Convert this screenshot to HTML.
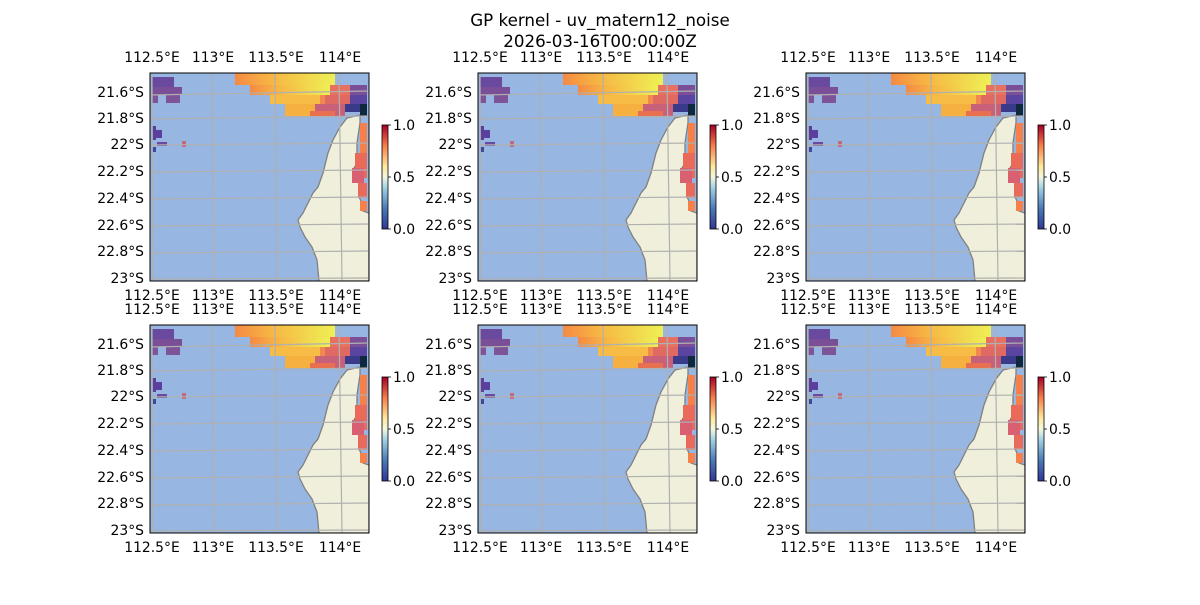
<!DOCTYPE html>
<html><head><meta charset="utf-8"><style>
html,body{margin:0;padding:0;background:#fff;}
text{font-family:"DejaVu Sans",sans-serif;font-size:13.9px;fill:#000;}
.t{font-size:16.7px;}
</style></head><body>
<svg width="1200" height="600" viewBox="0 0 1200 600" xmlns="http://www.w3.org/2000/svg">
<defs>
<linearGradient id="cb" x1="0" y1="1" x2="0" y2="0">
<stop offset="0" stop-color="#313695"/><stop offset="0.2" stop-color="#4a7bb7"/>
<stop offset="0.4" stop-color="#a3d3e6"/><stop offset="0.5" stop-color="#f2f7e0"/>
<stop offset="0.6" stop-color="#fee99d"/><stop offset="0.8" stop-color="#f67f4b"/>
<stop offset="1" stop-color="#a50026"/></linearGradient>
<linearGradient id="yo" x1="0" y1="0" x2="1" y2="0">
<stop offset="0" stop-color="#f58a45"/><stop offset="0.35" stop-color="#f7b543"/><stop offset="1" stop-color="#eef055"/></linearGradient>
<clipPath id="cp"><rect x="0" y="0" width="219" height="208"/></clipPath>
<g id="panel">
<g clip-path="url(#cp)">
<rect x="0" y="0" width="219" height="208" fill="#97b6e1"/>
<polygon points="210,42 197,45 190,54 183,67 178,80 173,100 168,114 163,120 158,130 153,140 148,147 150,154 155,164 162,174 167,187 169,208 219,208 219,140 213,138 212,130 209,124 212,118 211,110 205,105 204,95 207,90 207,70 210,50" fill="#efefdb" stroke="#808080" stroke-width="1.3"/>
<rect x="2" y="4" width="22" height="10" fill="#6a4a9e"/>
<rect x="2" y="14" width="30" height="8" fill="#7a4f98"/>
<rect x="2" y="22" width="6" height="8" fill="#7d5497"/>
<rect x="16" y="22" width="14" height="8" fill="#7d5497"/>
<rect x="2" y="53" width="4" height="14" fill="#5b3f9e"/>
<rect x="6" y="57" width="6" height="8" fill="#5b3f9e"/>
<rect x="7" y="69" width="10" height="4" fill="#6a4a9e"/>
<rect x="2" y="74" width="4" height="5" fill="#3b4a9e"/>
<rect x="32" y="68" width="4" height="6" fill="#c06a80"/>
<rect x="85" y="0" width="100" height="12" fill="url(#yo)"/>
<rect x="100" y="12" width="80" height="10" fill="url(#yo)"/>
<rect x="120" y="22" width="55" height="9" fill="#f6bc45"/>
<rect x="135" y="31" width="30" height="12" fill="#f6b040"/>
<rect x="170" y="22" width="15" height="9" fill="#f08850"/>
<rect x="180" y="12" width="20" height="10" fill="#e87060"/>
<rect x="200" y="12" width="17" height="10" fill="#7a4f98"/>
<rect x="175" y="22" width="25" height="9" fill="#e06a62"/>
<rect x="200" y="22" width="17" height="9" fill="#5a44a0"/>
<rect x="165" y="31" width="30" height="12" fill="#c8607a"/>
<rect x="195" y="31" width="22" height="8" fill="#3a3a8a"/>
<rect x="210" y="31" width="7" height="12" fill="#10283e"/>
<rect x="160" y="38" width="25" height="5" fill="#e87050"/>
<rect x="210" y="50" width="7" height="30" fill="#f5804a"/>
<rect x="205" y="80" width="12" height="25" fill="#ea6a5a"/>
<rect x="202" y="95" width="12" height="15" fill="#d86070"/>
<rect x="208" y="110" width="9" height="15" fill="#e86a5a"/>
<rect x="210" y="128" width="7" height="10" fill="#f58048"/>
</g>
<g stroke="#b0b0b0" stroke-width="1.2" fill="none" clip-path="url(#cp)">
<line x1="2" y1="0" x2="3" y2="208"/><line x1="62" y1="0" x2="64" y2="208"/>
<line x1="125" y1="0" x2="127" y2="208"/><line x1="189" y1="0" x2="192" y2="208"/>
<line x1="0" y1="22" x2="219" y2="18"/><line x1="0" y1="46" x2="219" y2="43"/>
<line x1="0" y1="72" x2="219" y2="70"/><line x1="0" y1="99" x2="219" y2="97"/>
<line x1="0" y1="126" x2="219" y2="124"/><line x1="0" y1="153" x2="219" y2="151"/>
<line x1="0" y1="180" x2="219" y2="178"/><line x1="0" y1="206" x2="219" y2="205"/>
</g>
<rect x="0" y="0" width="219" height="208" fill="none" stroke="#000" stroke-width="1"/>
<rect x="232" y="52" width="6" height="104" fill="url(#cb)" stroke="#000" stroke-width="0.8"/>
<g stroke="#000" stroke-width="0.8"><line x1="238" y1="52" x2="241" y2="52"/><line x1="238" y1="104" x2="241" y2="104"/><line x1="238" y1="156" x2="241" y2="156"/></g>
</g>
</defs>
<text class="t" x="600" y="26" text-anchor="middle">GP kernel - uv_matern12_noise</text>
<text class="t" x="600" y="47" text-anchor="middle">2026-03-16T00:00:00Z</text>

<use href="#panel" x="150" y="73"/><use href="#panel" x="478" y="73"/><use href="#panel" x="806" y="73"/>
<use href="#panel" x="150" y="325"/><use href="#panel" x="478" y="325"/><use href="#panel" x="806" y="325"/>

<g transform="translate(150,73)">
<text x="2" y="-11" text-anchor="middle">112.5°E</text><text x="63" y="-11" text-anchor="middle">113°E</text><text x="126" y="-11" text-anchor="middle">113.5°E</text><text x="190" y="-11" text-anchor="middle">114°E</text>
<text x="2" y="227" text-anchor="middle">112.5°E</text><text x="63" y="227" text-anchor="middle">113°E</text><text x="126" y="227" text-anchor="middle">113.5°E</text><text x="190" y="227" text-anchor="middle">114°E</text>
<text x="-6" y="24" text-anchor="end">21.6°S</text><text x="-6" y="50" text-anchor="end">21.8°S</text><text x="-6" y="76" text-anchor="end">22°S</text><text x="-6" y="103" text-anchor="end">22.2°S</text><text x="-6" y="130" text-anchor="end">22.4°S</text><text x="-6" y="157" text-anchor="end">22.6°S</text><text x="-6" y="183" text-anchor="end">22.8°S</text><text x="-6" y="210" text-anchor="end">23°S</text>
<text x="243" y="57">1.0</text><text x="243" y="109">0.5</text><text x="243" y="161">0.0</text>
</g>
<g transform="translate(478,73)">
<text x="2" y="-11" text-anchor="middle">112.5°E</text><text x="63" y="-11" text-anchor="middle">113°E</text><text x="126" y="-11" text-anchor="middle">113.5°E</text><text x="190" y="-11" text-anchor="middle">114°E</text>
<text x="2" y="227" text-anchor="middle">112.5°E</text><text x="63" y="227" text-anchor="middle">113°E</text><text x="126" y="227" text-anchor="middle">113.5°E</text><text x="190" y="227" text-anchor="middle">114°E</text>
<text x="-6" y="24" text-anchor="end">21.6°S</text><text x="-6" y="50" text-anchor="end">21.8°S</text><text x="-6" y="76" text-anchor="end">22°S</text><text x="-6" y="103" text-anchor="end">22.2°S</text><text x="-6" y="130" text-anchor="end">22.4°S</text><text x="-6" y="157" text-anchor="end">22.6°S</text><text x="-6" y="183" text-anchor="end">22.8°S</text><text x="-6" y="210" text-anchor="end">23°S</text>
<text x="243" y="57">1.0</text><text x="243" y="109">0.5</text><text x="243" y="161">0.0</text>
</g>
<g transform="translate(806,73)">
<text x="2" y="-11" text-anchor="middle">112.5°E</text><text x="63" y="-11" text-anchor="middle">113°E</text><text x="126" y="-11" text-anchor="middle">113.5°E</text><text x="190" y="-11" text-anchor="middle">114°E</text>
<text x="2" y="227" text-anchor="middle">112.5°E</text><text x="63" y="227" text-anchor="middle">113°E</text><text x="126" y="227" text-anchor="middle">113.5°E</text><text x="190" y="227" text-anchor="middle">114°E</text>
<text x="-6" y="24" text-anchor="end">21.6°S</text><text x="-6" y="50" text-anchor="end">21.8°S</text><text x="-6" y="76" text-anchor="end">22°S</text><text x="-6" y="103" text-anchor="end">22.2°S</text><text x="-6" y="130" text-anchor="end">22.4°S</text><text x="-6" y="157" text-anchor="end">22.6°S</text><text x="-6" y="183" text-anchor="end">22.8°S</text><text x="-6" y="210" text-anchor="end">23°S</text>
<text x="243" y="57">1.0</text><text x="243" y="109">0.5</text><text x="243" y="161">0.0</text>
</g>
<g transform="translate(150,325)">
<text x="2" y="-11" text-anchor="middle">112.5°E</text><text x="63" y="-11" text-anchor="middle">113°E</text><text x="126" y="-11" text-anchor="middle">113.5°E</text><text x="190" y="-11" text-anchor="middle">114°E</text>
<text x="2" y="227" text-anchor="middle">112.5°E</text><text x="63" y="227" text-anchor="middle">113°E</text><text x="126" y="227" text-anchor="middle">113.5°E</text><text x="190" y="227" text-anchor="middle">114°E</text>
<text x="-6" y="24" text-anchor="end">21.6°S</text><text x="-6" y="50" text-anchor="end">21.8°S</text><text x="-6" y="76" text-anchor="end">22°S</text><text x="-6" y="103" text-anchor="end">22.2°S</text><text x="-6" y="130" text-anchor="end">22.4°S</text><text x="-6" y="157" text-anchor="end">22.6°S</text><text x="-6" y="183" text-anchor="end">22.8°S</text><text x="-6" y="210" text-anchor="end">23°S</text>
<text x="243" y="57">1.0</text><text x="243" y="109">0.5</text><text x="243" y="161">0.0</text>
</g>
<g transform="translate(478,325)">
<text x="2" y="-11" text-anchor="middle">112.5°E</text><text x="63" y="-11" text-anchor="middle">113°E</text><text x="126" y="-11" text-anchor="middle">113.5°E</text><text x="190" y="-11" text-anchor="middle">114°E</text>
<text x="2" y="227" text-anchor="middle">112.5°E</text><text x="63" y="227" text-anchor="middle">113°E</text><text x="126" y="227" text-anchor="middle">113.5°E</text><text x="190" y="227" text-anchor="middle">114°E</text>
<text x="-6" y="24" text-anchor="end">21.6°S</text><text x="-6" y="50" text-anchor="end">21.8°S</text><text x="-6" y="76" text-anchor="end">22°S</text><text x="-6" y="103" text-anchor="end">22.2°S</text><text x="-6" y="130" text-anchor="end">22.4°S</text><text x="-6" y="157" text-anchor="end">22.6°S</text><text x="-6" y="183" text-anchor="end">22.8°S</text><text x="-6" y="210" text-anchor="end">23°S</text>
<text x="243" y="57">1.0</text><text x="243" y="109">0.5</text><text x="243" y="161">0.0</text>
</g>
<g transform="translate(806,325)">
<text x="2" y="-11" text-anchor="middle">112.5°E</text><text x="63" y="-11" text-anchor="middle">113°E</text><text x="126" y="-11" text-anchor="middle">113.5°E</text><text x="190" y="-11" text-anchor="middle">114°E</text>
<text x="2" y="227" text-anchor="middle">112.5°E</text><text x="63" y="227" text-anchor="middle">113°E</text><text x="126" y="227" text-anchor="middle">113.5°E</text><text x="190" y="227" text-anchor="middle">114°E</text>
<text x="-6" y="24" text-anchor="end">21.6°S</text><text x="-6" y="50" text-anchor="end">21.8°S</text><text x="-6" y="76" text-anchor="end">22°S</text><text x="-6" y="103" text-anchor="end">22.2°S</text><text x="-6" y="130" text-anchor="end">22.4°S</text><text x="-6" y="157" text-anchor="end">22.6°S</text><text x="-6" y="183" text-anchor="end">22.8°S</text><text x="-6" y="210" text-anchor="end">23°S</text>
<text x="243" y="57">1.0</text><text x="243" y="109">0.5</text><text x="243" y="161">0.0</text>
</g>
</svg>
</body></html>
